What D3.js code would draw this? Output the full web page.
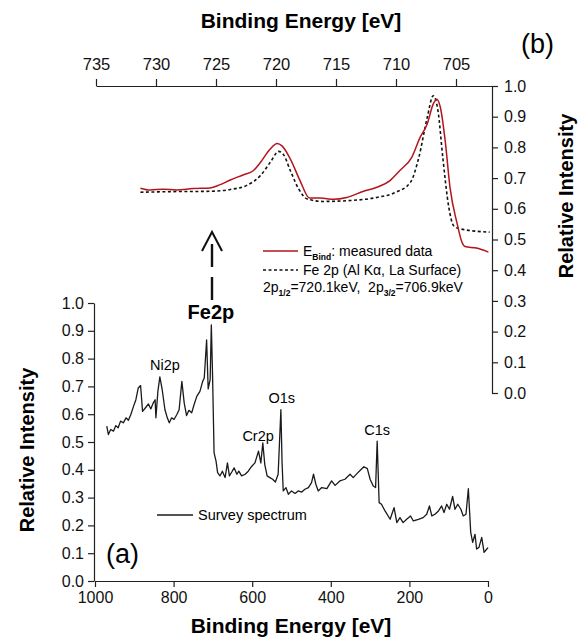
<!DOCTYPE html>
<html><head><meta charset="utf-8">
<script src="https://cdn.jsdelivr.net/npm/d3@7"></script>
<style>
html,body{margin:0;padding:0;background:#fff;}
svg{display:block;font-family:"Liberation Sans",Arial,sans-serif;}
</style></head>
<body>
<svg id="chart" width="580" height="640"></svg>
<script>
// ---- Survey spectrum (a) ----
const surveyEnergy = [970,966,960,953,947,941,935,928,921,915,909,902,896,890,884,879,870,864,858,852,847,845,840,835,829,822,816,811,805,799,792,786,779,773,767,761,754,748,741,733,726,722,716,712,707,704,701,697,692,688,682,676,669,663,658,652,646,639,634,627,618,610,601,593,584,578,573,568,562,555,548,541,534,527,524,521,514,508,500,491,483,474,466,457,449,444,438,432,423,410,398,389,377,364,351,343,333,321,316,307,300,292,286,282,277,271,262,249,239,232,224,216,207,197,190,177,165,156,149,143,135,126,118,112,105,98,90,84,77,69,63,56,50,44,39,33,29,23,16,10,3,0];
const surveyIntensity = [0.557,0.527,0.545,0.539,0.559,0.551,0.575,0.569,0.587,0.578,0.598,0.628,0.652,0.694,0.703,0.610,0.626,0.637,0.619,0.640,0.652,0.587,0.682,0.734,0.688,0.616,0.587,0.569,0.587,0.581,0.598,0.616,0.718,0.640,0.595,0.614,0.605,0.634,0.664,0.682,0.718,0.730,0.867,0.691,0.724,0.921,0.748,0.461,0.431,0.390,0.378,0.395,0.372,0.425,0.378,0.392,0.407,0.384,0.395,0.378,0.384,0.395,0.413,0.425,0.467,0.425,0.497,0.419,0.378,0.372,0.366,0.356,0.384,0.616,0.425,0.324,0.336,0.312,0.324,0.315,0.324,0.320,0.330,0.336,0.354,0.384,0.348,0.324,0.336,0.332,0.360,0.344,0.360,0.366,0.384,0.372,0.387,0.404,0.411,0.404,0.366,0.342,0.336,0.503,0.282,0.276,0.252,0.222,0.264,0.210,0.228,0.210,0.222,0.234,0.216,0.222,0.228,0.240,0.270,0.234,0.240,0.252,0.270,0.246,0.276,0.258,0.304,0.258,0.276,0.258,0.234,0.240,0.332,0.175,0.139,0.168,0.115,0.121,0.157,0.103,0.115,0.120];

// ---- Fe 2p detail (b) ----
const measuredEnergy = [731.3,730.5,729.4,728.3,726.9,725.5,724.7,723.8,722.7,721.9,721.3,720.5,719.9,719.5,718.8,718.0,717.2,716.3,715.2,714.1,712.7,711.6,710.5,709.7,708.7,708.0,707.4,706.9,706.6,706.3,705.9,705.5,704.9,704.5,704.25,703.3,702.3];
const measuredIntensity = [0.667,0.661,0.664,0.661,0.666,0.668,0.678,0.694,0.711,0.724,0.751,0.794,0.813,0.805,0.762,0.692,0.635,0.635,0.631,0.637,0.657,0.670,0.692,0.724,0.767,0.832,0.876,0.941,0.957,0.930,0.821,0.670,0.551,0.491,0.477,0.472,0.459];
const referenceEnergy = [731.3,728.6,725.5,723.8,722.4,721.3,720.4,719.8,719.4,718.8,718.1,717.4,716.1,713.8,711.6,710.0,708.8,708.1,707.4,706.9,706.5,706.1,705.6,705.2,704.7,702.2];
const referenceIntensity = [0.654,0.656,0.657,0.663,0.677,0.708,0.756,0.787,0.778,0.724,0.664,0.632,0.624,0.627,0.637,0.654,0.686,0.767,0.897,0.968,0.919,0.767,0.605,0.545,0.535,0.524];

// ---- Axis ticks ----
const surveyXTicks = [1000,800,600,400,200,0];
const intensityTicks = [0,0.1,0.2,0.3,0.4,0.5,0.6,0.7,0.8,0.9,1.0];
const insetXTicks = [735,730,725,720,715,710,705];

// ---- Labels ----
const peakLabels = [
  {text:"Ni2p", e:822, v:0.76},
  {text:"Cr2p", e:585, v:0.505},
  {text:"O1s", e:525, v:0.64},
  {text:"C1s", e:282, v:0.525}
];

const svg = d3.select("#chart");
const FONT = '"Liberation Sans",Arial,sans-serif';
const AX = "#222";

// scales
const xS = d3.scaleLinear().domain([1000,0]).range([95,488]);
const yS = d3.scaleLinear().domain([0,1]).range([581,303]);
const xI = d3.scaleLinear().domain([735,702]).range([96,492]);
const yI = d3.scaleLinear().domain([0,1]).range([393,86]);

function styleAxis(g, fs){
  g.attr("font-family", FONT).attr("font-size", fs);
  g.selectAll("path,line").attr("stroke", AX).attr("stroke-width", 1.2);
  g.selectAll("text").attr("fill", "#111");
}
const rng = (a,b,s)=>d3.range(a,b+s/2,s).map(v=>+v.toFixed(4));

// ---- survey axes ----
const gB = svg.append("g").attr("transform","translate(0,581)");
gB.call(d3.axisBottom(xS).tickValues(rng(0,1000,20)).tickSize(3).tickFormat("").tickSizeOuter(0));
gB.call(d3.axisBottom(xS).tickValues(surveyXTicks).tickSize(6).tickPadding(5).tickFormat(d3.format("d")).tickSizeOuter(0));
styleAxis(gB, 16);

const gL = svg.append("g").attr("transform","translate(94,0)");
gL.call(d3.axisLeft(yS).tickValues(rng(0,1,0.05)).tickSize(3).tickFormat("").tickSizeOuter(0));
gL.call(d3.axisLeft(yS).tickValues(intensityTicks).tickSize(6).tickPadding(4).tickFormat(d3.format(".1f")).tickSizeOuter(0));
styleAxis(gL, 16);

// ---- inset axes ----
const gT = svg.append("g").attr("transform","translate(0,86)");
gT.call(d3.axisTop(xI).tickValues(rng(703,735,1)).tickSize(3.5).tickFormat("").tickSizeOuter(0));
gT.call(d3.axisTop(xI).tickValues(insetXTicks).tickSize(7).tickPadding(9).tickFormat(d3.format("d")).tickSizeOuter(0));
styleAxis(gT, 16.5);

const gR = svg.append("g").attr("transform","translate(492,0)");
gR.call(d3.axisRight(yI).tickValues(rng(0,1,0.05)).tickSize(3).tickFormat("").tickSizeOuter(0));
gR.call(d3.axisRight(yI).tickValues(intensityTicks).tickSize(6).tickPadding(6).tickFormat(d3.format(".1f")).tickSizeOuter(0));
styleAxis(gR, 16);

// ---- lines ----
const surveyLine = d3.line().x(d=>xS(d[0])).y(d=>yS(d[1]));
svg.append("path").datum(d3.zip(surveyEnergy, surveyIntensity))
  .attr("d", surveyLine).attr("fill","none").attr("stroke","#1a1a1a").attr("stroke-width",1.3).attr("stroke-linejoin","round");

const insetLine = d3.line().x(d=>xI(d[0])).y(d=>yI(d[1])).curve(d3.curveMonotoneX);
svg.append("path").datum(d3.zip(referenceEnergy, referenceIntensity))
  .attr("d", insetLine).attr("fill","none").attr("stroke","#111").attr("stroke-width",1.6).attr("stroke-dasharray","3,2.5");
svg.append("path").datum(d3.zip(measuredEnergy, measuredIntensity))
  .attr("d", insetLine).attr("fill","none").attr("stroke","#b3151c").attr("stroke-width",1.5);

// ---- titles ----
svg.append("text").attr("x",291).attr("y",633).attr("text-anchor","middle")
  .attr("font-family",FONT).attr("font-weight","bold").attr("font-size",21).text("Binding Energy [eV]");
svg.append("text").attr("x",301).attr("y",28).attr("text-anchor","middle")
  .attr("font-family",FONT).attr("font-weight","bold").attr("font-size",21).text("Binding Energy [eV]");
svg.append("text").attr("transform","translate(34,450) rotate(-90)").attr("text-anchor","middle")
  .attr("font-family",FONT).attr("font-weight","bold").attr("font-size",20).text("Relative Intensity");
svg.append("text").attr("transform","translate(573,196) rotate(-90)").attr("text-anchor","middle")
  .attr("font-family",FONT).attr("font-weight","bold").attr("font-size",20).text("Relative Intensity");
svg.append("text").attr("x",521).attr("y",53).attr("font-family",FONT).attr("font-size",27).text("(b)");
svg.append("text").attr("x",106).attr("y",563).attr("font-family",FONT).attr("font-size",27).text("(a)");

// peak labels
svg.selectAll("text.peak").data(peakLabels).enter().append("text").attr("class","peak")
  .attr("x",d=>xS(d.e)).attr("y",d=>yS(d.v)).attr("text-anchor","middle")
  .attr("font-family",FONT).attr("font-size",14.5).text(d=>d.text);

// Fe2p label and arrow
svg.append("text").attr("x",xS(705)).attr("y",319).attr("text-anchor","middle")
  .attr("font-family",FONT).attr("font-weight","bold").attr("font-size",20).text("Fe2p");
const ax = 212;
svg.append("line").attr("x1",ax).attr("x2",ax).attr("y1",244).attr("y2",300)
  .attr("stroke","#111").attr("stroke-width",2.4).attr("stroke-dasharray","23,10");
svg.append("path").attr("d",`M${ax-10},251 L${ax},232 L${ax+10},251`)
  .attr("fill","none").attr("stroke","#111").attr("stroke-width",2);

// survey legend
svg.append("line").attr("x1",157).attr("x2",193).attr("y1",515).attr("y2",515).attr("stroke","#1a1a1a").attr("stroke-width",1.3);
svg.append("text").attr("x",198).attr("y",520).attr("font-family",FONT).attr("font-size",14.5).text("Survey spectrum");

// inset legend
svg.append("line").attr("x1",263).attr("x2",298).attr("y1",251).attr("y2",251).attr("stroke","#b3151c").attr("stroke-width",1.5);
const t1 = svg.append("text").attr("x",303).attr("y",256).attr("font-family",FONT).attr("font-size",14);
t1.append("tspan").text("E");
t1.append("tspan").attr("dy",4).attr("font-size",8.5).attr("font-weight","bold").text("Bind");
t1.append("tspan").attr("dy",-4).text(": measured data");
svg.append("line").attr("x1",263).attr("x2",298).attr("y1",270).attr("y2",270).attr("stroke","#111").attr("stroke-width",1.6).attr("stroke-dasharray","3,2.5");
svg.append("text").attr("x",303).attr("y",275).attr("font-family",FONT).attr("font-size",14).text("Fe 2p (Al K\u03b1, La Surface)");
const t3 = svg.append("text").attr("x",263).attr("y",292).attr("font-family",FONT).attr("font-size",14);
t3.append("tspan").text("2p");
t3.append("tspan").attr("dy",4).attr("font-size",8.5).attr("font-weight","bold").text("1/2");
t3.append("tspan").attr("dy",-4).text("=720.1keV,\u00a0\u00a02p");
t3.append("tspan").attr("dy",4).attr("font-size",8.5).attr("font-weight","bold").text("3/2");
t3.append("tspan").attr("dy",-4).text("=706.9keV");
</script>
</body></html>
